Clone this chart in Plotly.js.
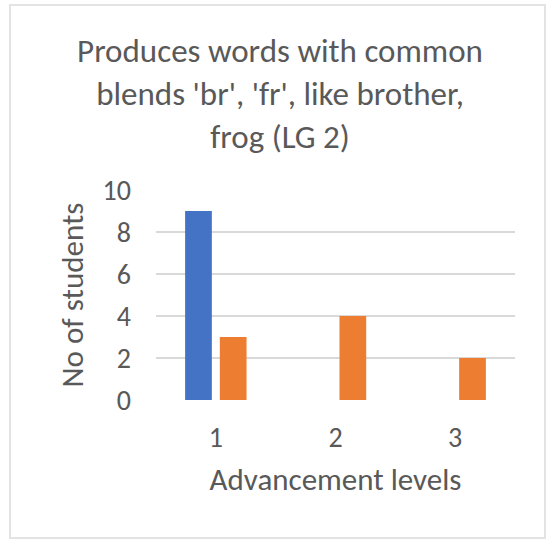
<!DOCTYPE html>
<html><head><meta charset="utf-8">
<script src="https://cdn.plot.ly/plotly-3.0.1.min.js"></script>
<style>
html,body{margin:0;padding:0;background:#fff;}
#frame{position:absolute;left:9px;top:4px;width:537px;height:535px;border:2px solid #e3e3e3;box-sizing:border-box;}
#chart{position:absolute;left:0;top:0;width:548px;height:540px;}
</style></head>
<body>
<div id="frame"></div>
<div id="chart"></div>
<script>
var levels = ['1', '2', '3'];
var series1 = [9, 0, 0];
var series2 = [3, 4, 2];
var yTicks = [0, 2, 4, 6, 8, 10];

var font = "Carlito, 'Open Sans', 'Noto Sans', sans-serif";
var traces = [
  {type:'bar', x: levels, y: series1, marker:{color:'#4472c4'}, hoverinfo:'skip'},
  {type:'bar', x: levels, y: series2, marker:{color:'#ed7d31'}, hoverinfo:'skip'}
];
var layout = {
  width:548, height:540,
  paper_bgcolor:'rgba(0,0,0,0)', plot_bgcolor:'rgba(0,0,0,0)',
  margin:{l:156, r:33, t:190, b:140},
  showlegend:false,
  barmode:'group', bargap:0.42, bargroupgap:0.23,
  font:{family:font, color:'#595959'},
  title:{text:"Produces words with common<br>blends 'br', 'fr', like brother,<br>frog (LG 2)",
         font:{size:33, color:'#595959', family:font}, x:0.511, xref:'container', xanchor:'center',
         y:0.885, yref:'container', yanchor:'middle'},
  xaxis:{type:'category', showgrid:false, zeroline:false, showline:false,
         tickfont:{size:28, color:'#595959'}, ticks:'', ticklabelstandoff:18,
         title:{text:'Advancement levels', font:{size:31, color:'#595959'}, standoff:14}},
  yaxis:{range:[0,10], tickvals:yTicks, ticktext:yTicks.map(String), showgrid:true, gridcolor:'#d9d9d9', gridwidth:2,
         zeroline:false, showline:false, tickfont:{size:28, color:'#595959'}, ticks:'', ticklabelstandoff:24,
         title:{text:'No of students', font:{size:31, color:'#595959'}, standoff:9}}
};
Plotly.newPlot('chart', traces, layout, {displayModeBar:false, staticPlot:true});
</script>
</body></html>
